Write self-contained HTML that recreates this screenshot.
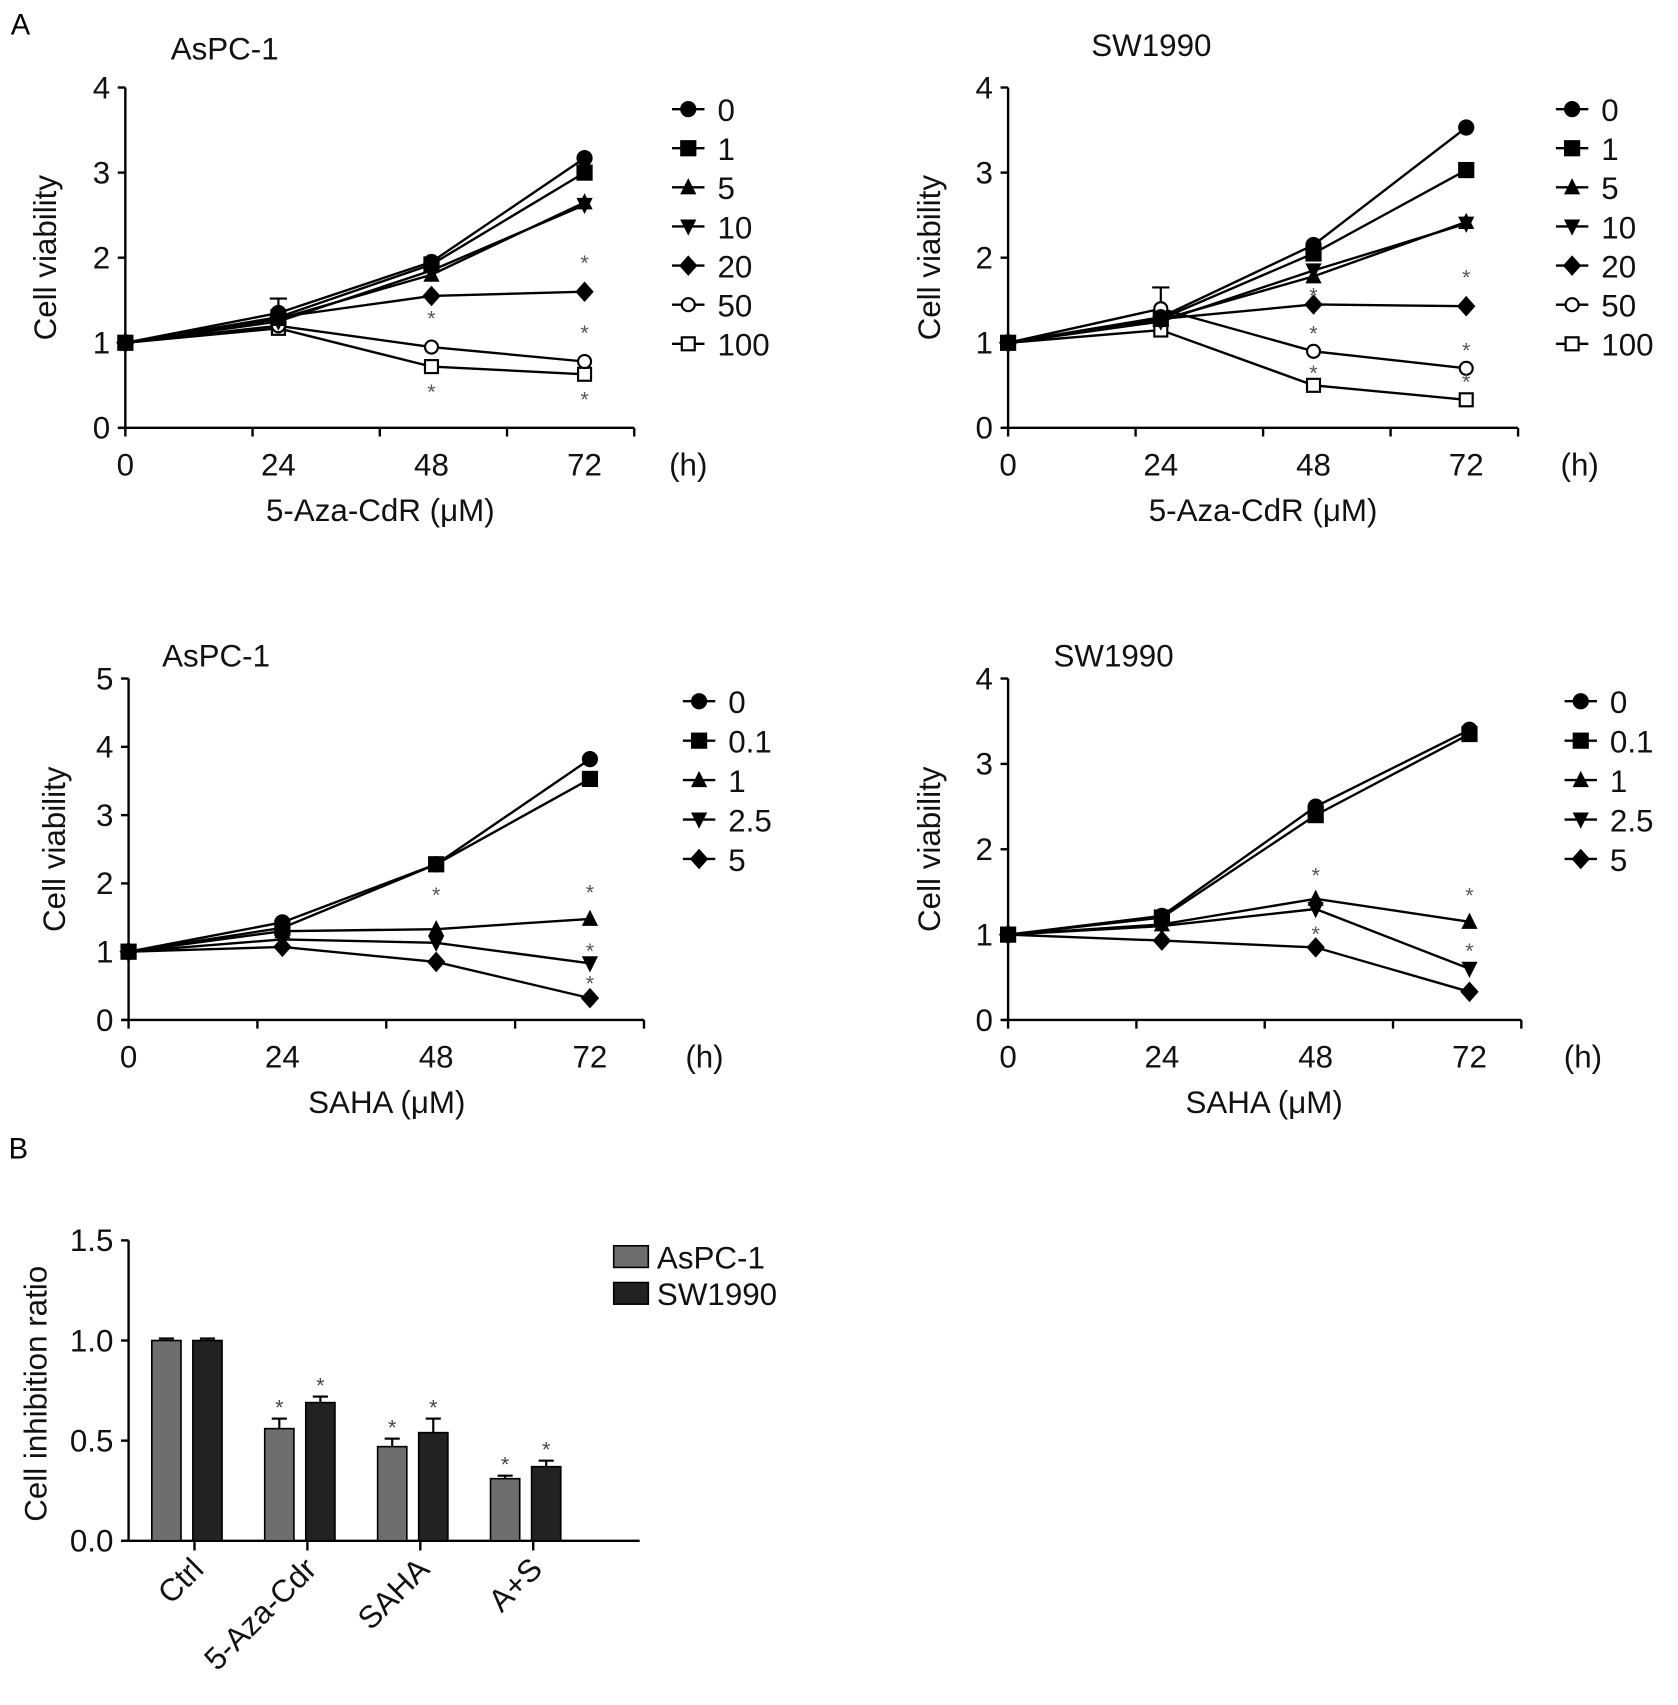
<!DOCTYPE html>
<html><head><meta charset="utf-8"><style>
html,body{margin:0;padding:0;background:#fff}
svg{display:block;font-family:"Liberation Sans",Arial,sans-serif}
</style></head><body>
<svg id="fig" width="1678" height="1705" viewBox="0 0 1553 1578" xmlns="http://www.w3.org/2000/svg">
<text x="10" y="32" font-size="27">A</text>
<text x="8" y="1072" font-size="27">B</text>
</svg>
<script>
const hours = [0, 24, 48, 72];
const xTickLabels = ["0", "24", "48", "72"];
// Panel 1: AsPC-1, 5-Aza-CdR
const p1Doses = ["0","1","5","10","20","50","100"];
const p1D0 = [1, 1.35, 1.95, 3.17];
const p1D1 = [1, 1.30, 1.92, 3.00];
const p1D5 = [1, 1.28, 1.80, 2.65];
const p1D10 = [1, 1.25, 1.85, 2.62];
const p1D20 = [1, 1.30, 1.55, 1.60];
const p1D50 = [1, 1.20, 0.95, 0.78];
const p1D100 = [1, 1.17, 0.72, 0.63];
// Panel 2: SW1990, 5-Aza-CdR
const p2Doses = ["0","1","5","10","20","50","100"];
const p2D0 = [1, 1.30, 2.15, 3.53];
const p2D1 = [1, 1.28, 2.05, 3.03];
const p2D5 = [1, 1.27, 1.78, 2.42];
const p2D10 = [1, 1.25, 1.85, 2.40];
const p2D20 = [1, 1.28, 1.45, 1.43];
const p2D50 = [1, 1.40, 0.90, 0.70];
const p2D100 = [1, 1.15, 0.50, 0.33];
// Panel 3: AsPC-1, SAHA
const p3Doses = ["0","0.1","1","2.5","5"];
const p3D0 = [1, 1.43, 2.28, 3.82];
const p3D01 = [1, 1.35, 2.28, 3.53];
const p3D1 = [1, 1.30, 1.33, 1.48];
const p3D25 = [1, 1.18, 1.13, 0.83];
const p3D5 = [1, 1.07, 0.85, 0.32];
// Panel 4: SW1990, SAHA
const p4Doses = ["0","0.1","1","2.5","5"];
const p4D0 = [1, 1.22, 2.50, 3.40];
const p4D01 = [1, 1.20, 2.40, 3.35];
const p4D1 = [1, 1.12, 1.42, 1.15];
const p4D25 = [1, 1.10, 1.30, 0.60];
const p4D5 = [1, 0.93, 0.85, 0.33];
// Panel B
const barCats = ["Ctrl", "5-Aza-Cdr", "SAHA", "A+S"];
const aspcVals = [1.0, 0.56, 0.47, 0.31];
const aspcErr = [0.01, 0.05, 0.04, 0.015];
const swVals = [1.0, 0.69, 0.54, 0.37];
const swErr = [0.01, 0.03, 0.07, 0.03];
const barTicks = ["0.0", "0.5", "1.0", "1.5"];

const NS = "http://www.w3.org/2000/svg";
const svg = document.getElementById("fig");
const FS = 29;
function el(tag, attrs, parent) {
  const e = document.createElementNS(NS, tag);
  for (const k in attrs) e.setAttribute(k, attrs[k]);
  (parent || svg).appendChild(e);
  return e;
}
function txt(x, y, s, size, anchor, parent) {
  const t = el("text", {x: x, y: y, "font-size": size, "text-anchor": anchor || "start", fill: "#111"}, parent);
  t.textContent = s;
  return t;
}
function marker(g, type, x, y) {
  const r = 7.5;
  let m;
  if (type === "circle") m = el("circle", {cx: x, cy: y, r: r, fill: "#000"}, g);
  else if (type === "square") m = el("rect", {x: x - r, y: y - r, width: 2 * r, height: 2 * r, fill: "#000"}, g);
  else if (type === "tri") m = el("polygon", {points: `${x},${y - r - 1} ${x - r},${y + r - 1} ${x + r},${y + r - 1}`, fill: "#000"}, g);
  else if (type === "itri") m = el("polygon", {points: `${x},${y + r + 1} ${x - r},${y - r + 1} ${x + r},${y - r + 1}`, fill: "#000"}, g);
  else if (type === "diamond") m = el("polygon", {points: `${x},${y - r - 2} ${x + r + 1},${y} ${x},${y + r + 2} ${x - r - 1},${y}`, fill: "#000"}, g);
  else if (type === "ocircle") m = el("circle", {cx: x, cy: y, r: r - 1.5, fill: "#fff", stroke: "#000", "stroke-width": 2}, g);
  else m = el("rect", {x: x - r + 1.5, y: y - r + 1.5, width: 2 * r - 3, height: 2 * r - 3, fill: "#fff", stroke: "#000", "stroke-width": 2}, g);
  return m;
}
const types7 = ["circle", "square", "tri", "itri", "diamond", "ocircle", "osquare"];
const types5 = ["circle", "square", "tri", "itri", "diamond"];

function linePanel(cfg) {
  const g = el("g", {});
  
  
  const xs = h => cfg.x0 + h * (cfg.x72 - cfg.x0) / 72;
  const ys = v => cfg.y0 - v * (cfg.y0 - cfg.yTop) / cfg.ymax;
  const axes = el("g", {stroke: "#000", "stroke-width": 2.2, fill: "none"}, g);
  
  
  el("line", {x1: cfg.x0, y1: cfg.yTop, x2: cfg.x0, y2: cfg.y0}, axes);
  el("line", {x1: cfg.x0 - 6, y1: cfg.y0, x2: cfg.xEnd, y2: cfg.y0}, axes);
  for (let i = 0; i <= cfg.ymax; i++) {
    el("line", {x1: cfg.x0 - 7, y1: ys(i), x2: cfg.x0, y2: ys(i)}, axes);
    const t = txt(cfg.x0 - 14, ys(i) + 10, String(i), FS, "end", g);
    
    
  }
  for (let i = 0; i < 5; i++) {
    const tx = cfg.x0 + i * (cfg.xEnd - cfg.x0) / 4;
    el("line", {x1: tx, y1: cfg.y0, x2: tx, y2: cfg.y0 + 8}, axes);
  }
  hours.forEach((h, i) => {
    const t = txt(xs(h), cfg.y0 + 44, xTickLabels[i], FS, "middle", g);
    
    
  });
  const hl = txt(cfg.hx, cfg.y0 + 44, "(h)", FS, "middle", g);
  
  
  const xt = txt(cfg.xTitleX, cfg.y0 + 86, cfg.xTitle, FS, "middle", g);
  
  
  const yt = txt(0, 0, "Cell viability", FS, "middle", g);
  yt.setAttribute("transform", `translate(${cfg.yTitleX},${(cfg.yTop + cfg.y0) / 2}) rotate(-90)`);
  
  
  const tt = txt(cfg.titleX, cfg.titleY, cfg.title, FS, "start", g);
  
  
  if (cfg.errTop) {
    const eb = el("g", {stroke: "#000", "stroke-width": 2}, g);
    
    
    el("line", {x1: xs(24), y1: ys(cfg.series[0][1]), x2: xs(24), y2: ys(cfg.errTop)}, eb);
    el("line", {x1: xs(24) - 8, y1: ys(cfg.errTop), x2: xs(24) + 8, y2: ys(cfg.errTop)}, eb);
  }
  for (let si = cfg.series.length - 1; si >= 0; si--) {
    const vals = cfg.series[si];
    const sg = el("g", {}, g);
    
    
    const pts = hours.map((h, i) => xs(h) + "," + ys(vals[i])).join(" ");
    el("polyline", {points: pts, fill: "none", stroke: "#000", "stroke-width": 2.2}, sg);
    hours.forEach((h, i) => {
      const m = marker(sg, cfg.types[si], xs(h), ys(vals[i]));
      
      
    });
  }
  (cfg.stars || []).forEach(s => {
    const st = txt(xs(s[0]), ys(s[1]) + s[2], "*", 20, "middle", g);
    st.setAttribute("fill", "#555");
    
    
  });
  cfg.labels.forEach((lab, i) => {
    const ly = cfg.legY + i * cfg.legDy;
    const lg = el("g", {}, g);
    
    
    el("line", {x1: cfg.legX - 15, y1: ly, x2: cfg.legX + 15, y2: ly, stroke: "#000", "stroke-width": 2.2}, lg);
    marker(lg, cfg.types[i], cfg.legX, ly);
    txt(cfg.legX + 27, ly + 11, lab, FS, "start", lg);
  });
}

linePanel({name: "chart-aspc1-aza", x0: 116, x72: 541, xEnd: 587, y0: 396, yTop: 81, ymax: 4, hx: 637, xTitle: "5-Aza-CdR (\u03bcM)", xTitleX: 352, yTitleX: 52, title: "AsPC-1", titleX: 158, titleY: 55,
  series: [p1D0, p1D1, p1D5, p1D10, p1D20, p1D50, p1D100], labels: p1Doses, types: types7, errTop: 1.52,
  legX: 637, legY: 101, legDy: 36.2,
  stars: [[72, 1.60, -20], [48, 0.95, -20], [72, 0.78, -20], [48, 0.72, 30], [72, 0.63, 30]]});
linePanel({name: "chart-sw1990-aza", x0: 933, x72: 1357, xEnd: 1405, y0: 396, yTop: 81, ymax: 4, hx: 1462, xTitle: "5-Aza-CdR (\u03bcM)", xTitleX: 1169, yTitleX: 870, title: "SW1990", titleX: 1010, titleY: 52,
  series: [p2D0, p2D1, p2D5, p2D10, p2D20, p2D50, p2D100], labels: p2Doses, types: types7, errTop: 1.65,
  legX: 1455, legY: 101, legDy: 36.2,
  stars: [[72, 1.43, -20], [48, 1.45, -2], [48, 0.9, -10], [72, 0.7, -10], [48, 0.5, -5], [72, 0.33, -10]]});
linePanel({name: "chart-aspc1-saha", x0: 119, x72: 546, xEnd: 596, y0: 944, yTop: 628, ymax: 5, hx: 652, xTitle: "SAHA (\u03bcM)", xTitleX: 358, yTitleX: 60, title: "AsPC-1", titleX: 150, titleY: 617,
  series: [p3D0, p3D01, p3D1, p3D25, p3D5], labels: p3Doses, types: types5,
  legX: 647, legY: 649, legDy: 36.5,
  stars: [[48, 1.33, -25], [72, 1.48, -18], [72, 0.83, -5], [72, 0.32, -7]]});
linePanel({name: "chart-sw1990-saha", x0: 933, x72: 1360, xEnd: 1408, y0: 944, yTop: 628, ymax: 4, hx: 1465, xTitle: "SAHA (\u03bcM)", xTitleX: 1170, yTitleX: 870, title: "SW1990", titleX: 975, titleY: 617,
  series: [p4D0, p4D01, p4D1, p4D25, p4D5], labels: p4Doses, types: types5, errTop: 0,
  legX: 1463, legY: 649, legDy: 36.5,
  stars: [[48, 1.42, -15], [72, 1.15, -18], [72, 0.6, -10], [48, 0.85, -6]]});

(function () {
  const g = el("g", {});
  
  
  const x0 = 119, xEnd = 592, y0 = 1426, yTop = 1148, ymax = 1.5;
  const ys = v => y0 - v * (y0 - yTop) / ymax;
  const groupW = 104.5, firstCenter = 174, barW = 27, gap = 11;
  const axes = el("g", {stroke: "#000", "stroke-width": 2.2}, g);
  
  
  el("line", {x1: x0, y1: yTop, x2: x0, y2: y0}, axes);
  el("line", {x1: x0 - 6, y1: y0, x2: xEnd, y2: y0}, axes);
  barTicks.forEach(s => {
    const v = parseFloat(s);
    el("line", {x1: x0 - 7, y1: ys(v), x2: x0, y2: ys(v)}, axes);
    const t = txt(x0 - 14, ys(v) + 10, s, FS, "end", g);
    
    
  });
  barCats.forEach((c, i) => {
    const cx = firstCenter + i * groupW;
    el("line", {x1: cx + 6, y1: y0, x2: cx + 6, y2: y0 + 9}, axes);
    const t = txt(0, 0, c, FS, "end", g);
    t.setAttribute("transform", `translate(${cx + 16},${y0 + 28}) rotate(-45)`);
    
    
    [[aspcVals, aspcErr, "#6e6e6e"], [swVals, swErr, "#222"]].forEach((s, k) => {
      const v = s[0][i], e = s[1][i];
      const bx = cx - barW - gap / 2 + k * (barW + gap) - 1;
      const r = el("rect", {x: bx, y: ys(v), width: barW, height: y0 - ys(v), fill: s[2], stroke: "#000", "stroke-width": 1.5}, g);
      
      
      const mx = bx + barW / 2;
      el("line", {x1: mx, y1: ys(v), x2: mx, y2: ys(v + e), stroke: "#000", "stroke-width": 2}, g);
      el("line", {x1: mx - 7, y1: ys(v + e), x2: mx + 7, y2: ys(v + e), stroke: "#000", "stroke-width": 2}, g);
      if (i > 0) {
        const st = txt(mx, ys(v + e) - 4, "*", 20, "middle", g);
        st.setAttribute("fill", "#444");
        
        
      }
    });
  });
  const yt = txt(0, 0, "Cell inhibition ratio", FS, "middle", g);
  yt.setAttribute("transform", `translate(43,1290) rotate(-90)`);
  
  
  [["AsPC-1", "#6e6e6e", 1153], ["SW1990", "#222", 1187]].forEach(l => {
    const lg = el("g", {}, g);
    
    
    el("rect", {x: 568, y: l[2], width: 32, height: 20, fill: l[1], stroke: "#000", "stroke-width": 1.5}, lg);
    txt(608, l[2] + 21, l[0], FS, "start", lg);
  });
})();
</script>
</body></html>
